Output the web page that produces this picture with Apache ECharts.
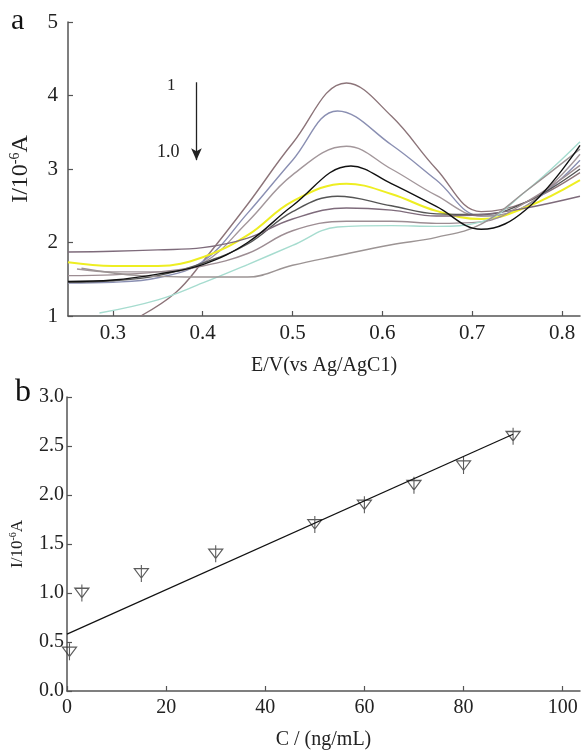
<!DOCTYPE html>
<html><head><meta charset="utf-8">
<script src="https://cdn.jsdelivr.net/npm/echarts@6/dist/echarts.min.js"></script>
<style>html,body{margin:0;padding:0;background:#fff}#c{width:583px;height:751px}</style>
</head><body><div id="c"></div>
<script>
// ---- Panel a: DPV curves (E in V, I in 1e-6 A) ----
const curveNames = ['c1','c2','c3','c4','c5','c6','c7','c8','c9','c10'];
const curveColors = ['#8c7479','#8a8fb2','#a3979b','#111111','#eeee22','#555555','#7e6b7b','#9d8d93','#a6dccf','#9c9494'];
const c1 = [[0.331,1.0],[0.37,1.32],[0.4,1.74],[0.45,2.52],[0.5,3.35],[0.56,4.17],[0.61,3.72],[0.66,3.0],[0.71,2.42],[0.76,2.55],[0.82,2.95]];
const c2 = [[0.25,1.45],[0.3,1.46],[0.35,1.52],[0.4,1.74],[0.45,2.4],[0.5,3.12],[0.55,3.79],[0.61,3.33],[0.66,2.85],[0.71,2.36],[0.76,2.5],[0.82,3.12]];
const c3 = [[0.26,1.64],[0.3,1.6],[0.35,1.6],[0.4,1.72],[0.45,2.28],[0.5,2.92],[0.56,3.31],[0.61,3.0],[0.66,2.64],[0.71,2.36],[0.76,2.5],[0.82,3.2]];
const c4 = [[0.25,1.47],[0.3,1.49],[0.35,1.57],[0.4,1.7],[0.45,2.0],[0.5,2.5],[0.565,3.04],[0.61,2.8],[0.66,2.49],[0.71,2.18],[0.76,2.45],[0.82,3.32]];
const c5 = [[0.25,1.73],[0.3,1.68],[0.35,1.68],[0.4,1.8],[0.45,2.1],[0.5,2.56],[0.56,2.8],[0.61,2.66],[0.66,2.43],[0.71,2.32],[0.76,2.48],[0.82,2.85]];
const c6 = [[0.25,1.46],[0.3,1.48],[0.35,1.55],[0.4,1.72],[0.45,1.98],[0.5,2.42],[0.55,2.63],[0.61,2.5],[0.66,2.39],[0.71,2.38],[0.76,2.55],[0.82,3.0]];
const c7 = [[0.25,1.87],[0.3,1.88],[0.35,1.9],[0.4,1.93],[0.45,2.06],[0.5,2.32],[0.56,2.47],[0.61,2.44],[0.66,2.36],[0.71,2.38],[0.76,2.47],[0.82,2.63]];
const c8 = [[0.25,1.55],[0.3,1.56],[0.35,1.6],[0.4,1.68],[0.45,1.85],[0.5,2.16],[0.56,2.29],[0.61,2.29],[0.66,2.26],[0.71,2.28],[0.76,2.55],[0.82,3.05]];
const c9 = [[0.285,1.04],[0.35,1.22],[0.4,1.45],[0.45,1.7],[0.5,1.96],[0.55,2.21],[0.61,2.23],[0.66,2.22],[0.71,2.28],[0.76,2.7],[0.82,3.37]];
const c10 = [[0.265,1.65],[0.33,1.55],[0.4,1.53],[0.45,1.53],[0.5,1.69],[0.55,1.82],[0.61,1.97],[0.66,2.07],[0.71,2.25],[0.76,2.7],[0.82,3.27]];
const curves = [c1,c2,c3,c4,c5,c6,c7,c8,c9,c10];
const xTicksA = [0.3,0.4,0.5,0.6,0.7,0.8];

// ---- Panel b: calibration ----
const concentration = [0.5,3,15,30,50,60,70,80,90];
const current = [0.4,1.0,1.2,1.4,1.7,1.9,2.1,2.3,2.6];
const fitLine = [[0,0.58],[90,2.62]];

const FONT = 'Liberation Serif';
const axisLine = {lineStyle:{color:'#555',width:1.5}};
const axisTick = {inside:true,length:5,lineStyle:{color:'#555',width:1.2}};
const lblA = {color:'#222',fontFamily:FONT,fontSize:21};
const lblB = {color:'#222',fontFamily:FONT,fontSize:20};
const richA = {sup:{fontFamily:FONT,fontSize:14,color:'#222',verticalAlign:'top',padding:[0,0,12,0]}};
const richB = {sup:{fontFamily:FONT,fontSize:10,color:'#222',verticalAlign:'top',padding:[0,0,9,0]}};

const series = curves.map((d,i)=>({
  name:curveNames[i],type:'line',xAxisIndex:0,yAxisIndex:0,data:d,smooth:0.4,
  showSymbol:false,lineStyle:{color:curveColors[i],width:i===4?2:1.4},z:i===3?5:2
}));
series[0].markLine = {
  silent:true,symbol:['none','arrow'],symbolSize:[8,12],
  lineStyle:{color:'#222',type:'solid',width:1.3},label:{show:false},
  data:[[{coord:[0.393,4.18]},{coord:[0.393,3.12]}]]
};
series.push({
  name:'data',type:'scatter',xAxisIndex:1,yAxisIndex:1,
  data:concentration.map((c,i)=>[c,current[i]]),
  symbol:'path://M0,4 L14,4 L7,14 Z M7,0 L7,18',symbolSize:[14,17],
  itemStyle:{color:'rgba(0,0,0,0)',borderColor:'#333',borderWidth:1.2}
});
series.push({
  name:'fit',type:'line',xAxisIndex:1,yAxisIndex:1,data:fitLine,showSymbol:false,
  lineStyle:{color:'#111',width:1.2}
});

const chart = echarts.init(document.getElementById('c'),null,{renderer:'canvas'});
chart.setOption({
  animation:false,
  backgroundColor:'#fff',
  grid:[
    {left:67,top:22,width:513,height:294},
    {left:67,top:397,width:513,height:294}
  ],
  xAxis:[
    {type:'value',gridIndex:0,min:0.25,max:0.82,splitLine:{show:false},axisLine,
     axisTick:Object.assign({customValues:xTicksA},axisTick),
     axisLabel:Object.assign({customValues:xTicksA,margin:7,formatter:v=>v.toFixed(1)},lblA),
     name:'E/V(vs Ag/AgC1)',nameLocation:'middle',nameGap:40,
     nameTextStyle:{fontFamily:FONT,fontSize:20,color:'#222'}},
    {type:'value',gridIndex:1,min:0,max:103.5,interval:20,splitLine:{show:false},axisLine,axisTick,
     axisLabel:Object.assign({margin:7,showMaxLabel:false},lblB),
     name:'C / (ng/mL)',nameLocation:'middle',nameGap:39,
     nameTextStyle:{fontFamily:FONT,fontSize:20,color:'#222'}}
  ],
  yAxis:[
    {type:'value',gridIndex:0,min:1,max:5,interval:1,splitLine:{show:false},axisLine,axisTick,
     axisLabel:Object.assign({margin:10},lblA),
     name:'I/10{sup|-6}A',nameLocation:'middle',nameGap:34,nameRotate:90,
     nameTextStyle:{fontFamily:FONT,fontSize:24,color:'#222',rich:richA}},
    {type:'value',gridIndex:1,min:0,max:3,interval:0.5,splitLine:{show:false},axisLine,axisTick,
     axisLabel:Object.assign({margin:3,formatter:v=>v.toFixed(1)},lblB),
     name:'I/10{sup|-6}A',nameLocation:'middle',nameGap:40,nameRotate:90,
     nameTextStyle:{fontFamily:FONT,fontSize:17,color:'#222',rich:richB}}
  ],
  graphic:[
    {type:'text',left:11,top:6,style:{text:'a',font:'30px "Liberation Serif"',fill:'#111'}},
    {type:'text',left:15,top:377,style:{text:'b',font:'32px "Liberation Serif"',fill:'#111'}},
    {type:'text',left:167,top:77,style:{text:'1',font:'17px "Liberation Serif"',fill:'#222'}},
    {type:'text',left:157,top:143,style:{text:'1.0',font:'18px "Liberation Serif"',fill:'#222'}}
  ],
  series
});
</script></body></html>
